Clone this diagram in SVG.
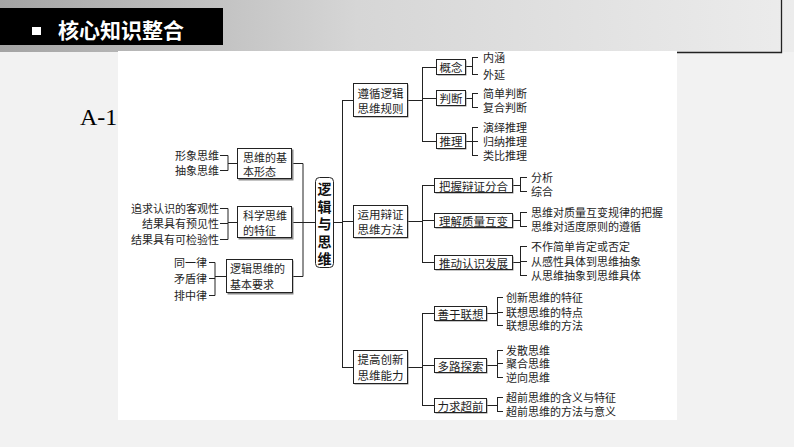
<svg xmlns="http://www.w3.org/2000/svg" width="794" height="447" viewBox="0 0 794 447">
<defs>
<linearGradient id="hdr" x1="0" y1="0" x2="1" y2="0">
<stop offset="0" stop-color="#a4a4a4"/>
<stop offset="0.45" stop-color="#d6d6d6"/>
<stop offset="1" stop-color="#ececec"/>
</linearGradient>
<style>
.box{fill:#fff;stroke:#222;stroke-width:1}
.sh{fill:#8a8a8a}
.ln{fill:none;stroke:#222;stroke-width:1}
.t{font-family:"Noto Sans CJK SC","Noto Sans CJK JP",sans-serif;font-size:11px;fill:#1e1e1e;dominant-baseline:central}
.b{font-family:"Noto Sans CJK SC","Noto Sans CJK JP",sans-serif;font-size:11.5px;fill:#1e1e1e;dominant-baseline:central;text-anchor:middle}
.e{text-anchor:end}
</style>
</defs>
<rect x="0" y="0" width="794" height="447" fill="#f2f2f2"/>
<rect x="0" y="0" width="794" height="52" fill="url(#hdr)"/>
<rect x="0" y="8" width="223" height="37" fill="#000"/>
<rect x="32" y="27" width="9" height="8" fill="#fff"/>
<text x="58" y="38" font-family="'Noto Sans CJK SC',sans-serif" font-size="21" font-weight="bold" fill="#fff">核心知识整合</text>
<path d="M781.5 0 V52.5 H677" fill="none" stroke="#222" stroke-width="1.3"/>
<text x="80" y="125" font-family="'Liberation Serif',serif" font-size="24" fill="#000">A-13</text>
<rect x="118" y="51" width="559" height="369" fill="#fff"/>

<g id="connectors" class="ln">
<path d="M220 155.5H228M220 170.5H228M228 155.5V170.5M228 163.5H237"/>
<path d="M220 208.5H228M220 223.5H228M220 239.5H228M228 208.5V239.5M228 222.5H237"/>
<path d="M209 262.5H215M209 278.5H215M209 295.5H215M215 262.5V295.5M215 276.5H226"/>
<path d="M292 163.5H303M292 222.5H315M293 276.5H303M303 163.5V276.5"/>
<path d="M334 222.5H342M342.5 100V367M342 100.5H353M342 221.5H353M342 367.5H353"/>
<path d="M407 100.5H422M407 221.5H422M407 367.5H422"/>
<path d="M422.5 67V141M422 67.5H436M422 98.5H436M422 141.5H436"/>
<path d="M422.5 185V262M422 185.5H434M422 220.5H434M422 262.5H434"/>
<path d="M422.5 313V405M422 313.5H434M422 365.5H434M422 405.5H434"/>
<path d="M465 66.5H472M472.5 57V74M472 57.5H478M472 74.5H478"/>
<path d="M465 98.5H472M472.5 93V107M472 93.5H478M472 107.5H478"/>
<path d="M465 141.5H472M472.5 127V155M472 127.5H478M472 141.5H478M472 155.5H478"/>
<path d="M512 185.5H520M520.5 177V191M520 177.5H527M520 191.5H527"/>
<path d="M512 220.5H520M520.5 212V226M520 212.5H527M520 226.5H527"/>
<path d="M512 262.5H520M520.5 246V275M520 246.5H527M520 261.5H527M520 275.5H527"/>
<path d="M486 313.5H497M497.5 297V325M497 297.5H503M497 312.5H503M497 325.5H503"/>
<path d="M486 365.5H497M497.5 350V377M497 350.5H503M497 363.5H503M497 377.5H503"/>
<path d="M486 405.5H497M497.5 397V411M497 397.5H503M497 411.5H503"/>
</g>

<g id="n-basic">
<rect class="sh" x="238.5" y="149.5" width="55" height="31"/>
<rect class="box" x="237.5" y="148.5" width="54" height="30"/>
<text class="t" x="243" y="157">思维的基</text>
<text class="t" x="243" y="171">本形态</text>
<text class="t e" x="219" y="155">形象思维</text>
<text class="t e" x="219" y="170">抽象思维</text>
</g>
<g id="n-sci">
<rect class="sh" x="238.5" y="207.5" width="55" height="32"/>
<rect class="box" x="237.5" y="206.5" width="54" height="31"/>
<text class="t" x="243" y="215">科学思维</text>
<text class="t" x="243" y="230">的特征</text>
<text class="t e" x="219" y="208">追求认识的客观性</text>
<text class="t e" x="219" y="223">结果具有预见性</text>
<text class="t e" x="219" y="239">结果具有可检验性</text>
</g>
<g id="n-req">
<rect class="sh" x="227.5" y="260.5" width="66" height="34"/>
<rect class="box" x="226.5" y="259.5" width="66" height="33"/>
<text class="t" x="230" y="268">逻辑思维的</text>
<text class="t" x="230" y="284">基本要求</text>
<text class="t e" x="207" y="262">同一律</text>
<text class="t e" x="207" y="278">矛盾律</text>
<text class="t e" x="207" y="295">排中律</text>
</g>
<g id="n-root">
<rect class="box" x="315.5" y="177.5" width="18" height="90" rx="4"/>
<g font-family="'Noto Sans CJK SC',sans-serif" font-size="14" font-weight="bold" fill="#111" text-anchor="middle" dominant-baseline="central">
<text x="324.5" y="188">逻</text>
<text x="324.5" y="206">辑</text>
<text x="324.5" y="223">与</text>
<text x="324.5" y="241">思</text>
<text x="324.5" y="258">维</text>
</g>
</g>
<g id="n-rules">
<rect class="sh" x="354.5" y="84.5" width="54" height="33"/>
<rect class="box" x="353.5" y="83.5" width="54" height="33"/>
<text class="b" x="380.5" y="93">遵循逻辑</text>
<text class="b" x="380.5" y="108">思维规则</text>
</g>
<g id="n-dial">
<rect class="sh" x="354.5" y="206.5" width="54" height="32"/>
<rect class="box" x="353.5" y="205.5" width="54" height="32"/>
<text class="b" x="380.5" y="214">运用辩证</text>
<text class="b" x="380.5" y="229">思维方法</text>
</g>
<g id="n-inno">
<rect class="sh" x="354.5" y="351.5" width="54" height="33"/>
<rect class="box" x="353.5" y="350.5" width="54" height="33"/>
<text class="b" x="380.5" y="359">提高创新</text>
<text class="b" x="380.5" y="375">思维能力</text>
</g>
<g id="n-concept">
<rect class="sh" x="437.5" y="60.5" width="29" height="15"/>
<rect class="box" x="436.5" y="59.5" width="29" height="15"/>
<text class="b" x="451" y="67">概念</text>
<text class="t" x="483" y="57">内涵</text>
<text class="t" x="483" y="74">外延</text>
</g>
<g id="n-judge">
<rect class="sh" x="437.5" y="91.5" width="29" height="15"/>
<rect class="box" x="436.5" y="90.5" width="29" height="15"/>
<text class="b" x="451" y="98">判断</text>
<text class="t" x="483" y="93">简单判断</text>
<text class="t" x="483" y="107">复合判断</text>
</g>
<g id="n-reason">
<rect class="sh" x="437.5" y="134.5" width="29" height="15"/>
<rect class="box" x="436.5" y="133.5" width="29" height="15"/>
<text class="b" x="451" y="141">推理</text>
<text class="t" x="483" y="127">演绎推理</text>
<text class="t" x="483" y="141">归纳推理</text>
<text class="t" x="483" y="155">类比推理</text>
</g>
<g id="n-grasp">
<rect class="sh" x="435.5" y="179.5" width="78" height="14"/>
<rect class="box" x="434.5" y="178.5" width="78" height="14"/>
<text class="b" x="473.5" y="185.5">把握辩证分合</text>
<text class="t" x="531" y="177">分析</text>
<text class="t" x="531" y="191">综合</text>
</g>
<g id="n-qual">
<rect class="sh" x="435.5" y="214.5" width="78" height="14"/>
<rect class="box" x="434.5" y="213.5" width="78" height="14"/>
<text class="b" x="473.5" y="220.5">理解质量互变</text>
<text class="t" x="531" y="212">思维对质量互变规律的把握</text>
<text class="t" x="531" y="226">思维对适度原则的遵循</text>
</g>
<g id="n-push">
<rect class="sh" x="435.5" y="256.5" width="78" height="14"/>
<rect class="box" x="434.5" y="255.5" width="78" height="14"/>
<text class="b" x="473.5" y="262.5">推动认识发展</text>
<text class="t" x="531" y="246">不作简单肯定或否定</text>
<text class="t" x="531" y="261">从感性具体到思维抽象</text>
<text class="t" x="531" y="275">从思维抽象到思维具体</text>
</g>
<g id="n-assoc">
<rect class="sh" x="435.5" y="307.5" width="52" height="14"/>
<rect class="box" x="434.5" y="306.5" width="52" height="14"/>
<text class="b" x="460.5" y="313.5">善于联想</text>
<text class="t" x="506" y="297">创新思维的特征</text>
<text class="t" x="506" y="312">联想思维的特点</text>
<text class="t" x="506" y="325">联想思维的方法</text>
</g>
<g id="n-multi">
<rect class="sh" x="435.5" y="359.5" width="52" height="14"/>
<rect class="box" x="434.5" y="358.5" width="52" height="14"/>
<text class="b" x="460.5" y="365.5">多路探索</text>
<text class="t" x="506" y="350">发散思维</text>
<text class="t" x="506" y="363">聚合思维</text>
<text class="t" x="506" y="377">逆向思维</text>
</g>
<g id="n-ahead">
<rect class="sh" x="435.5" y="399.5" width="52" height="14"/>
<rect class="box" x="434.5" y="398.5" width="52" height="14"/>
<text class="b" x="460.5" y="405.5">力求超前</text>
<text class="t" x="506" y="397">超前思维的含义与特征</text>
<text class="t" x="506" y="411">超前思维的方法与意义</text>
</g>
</svg>
